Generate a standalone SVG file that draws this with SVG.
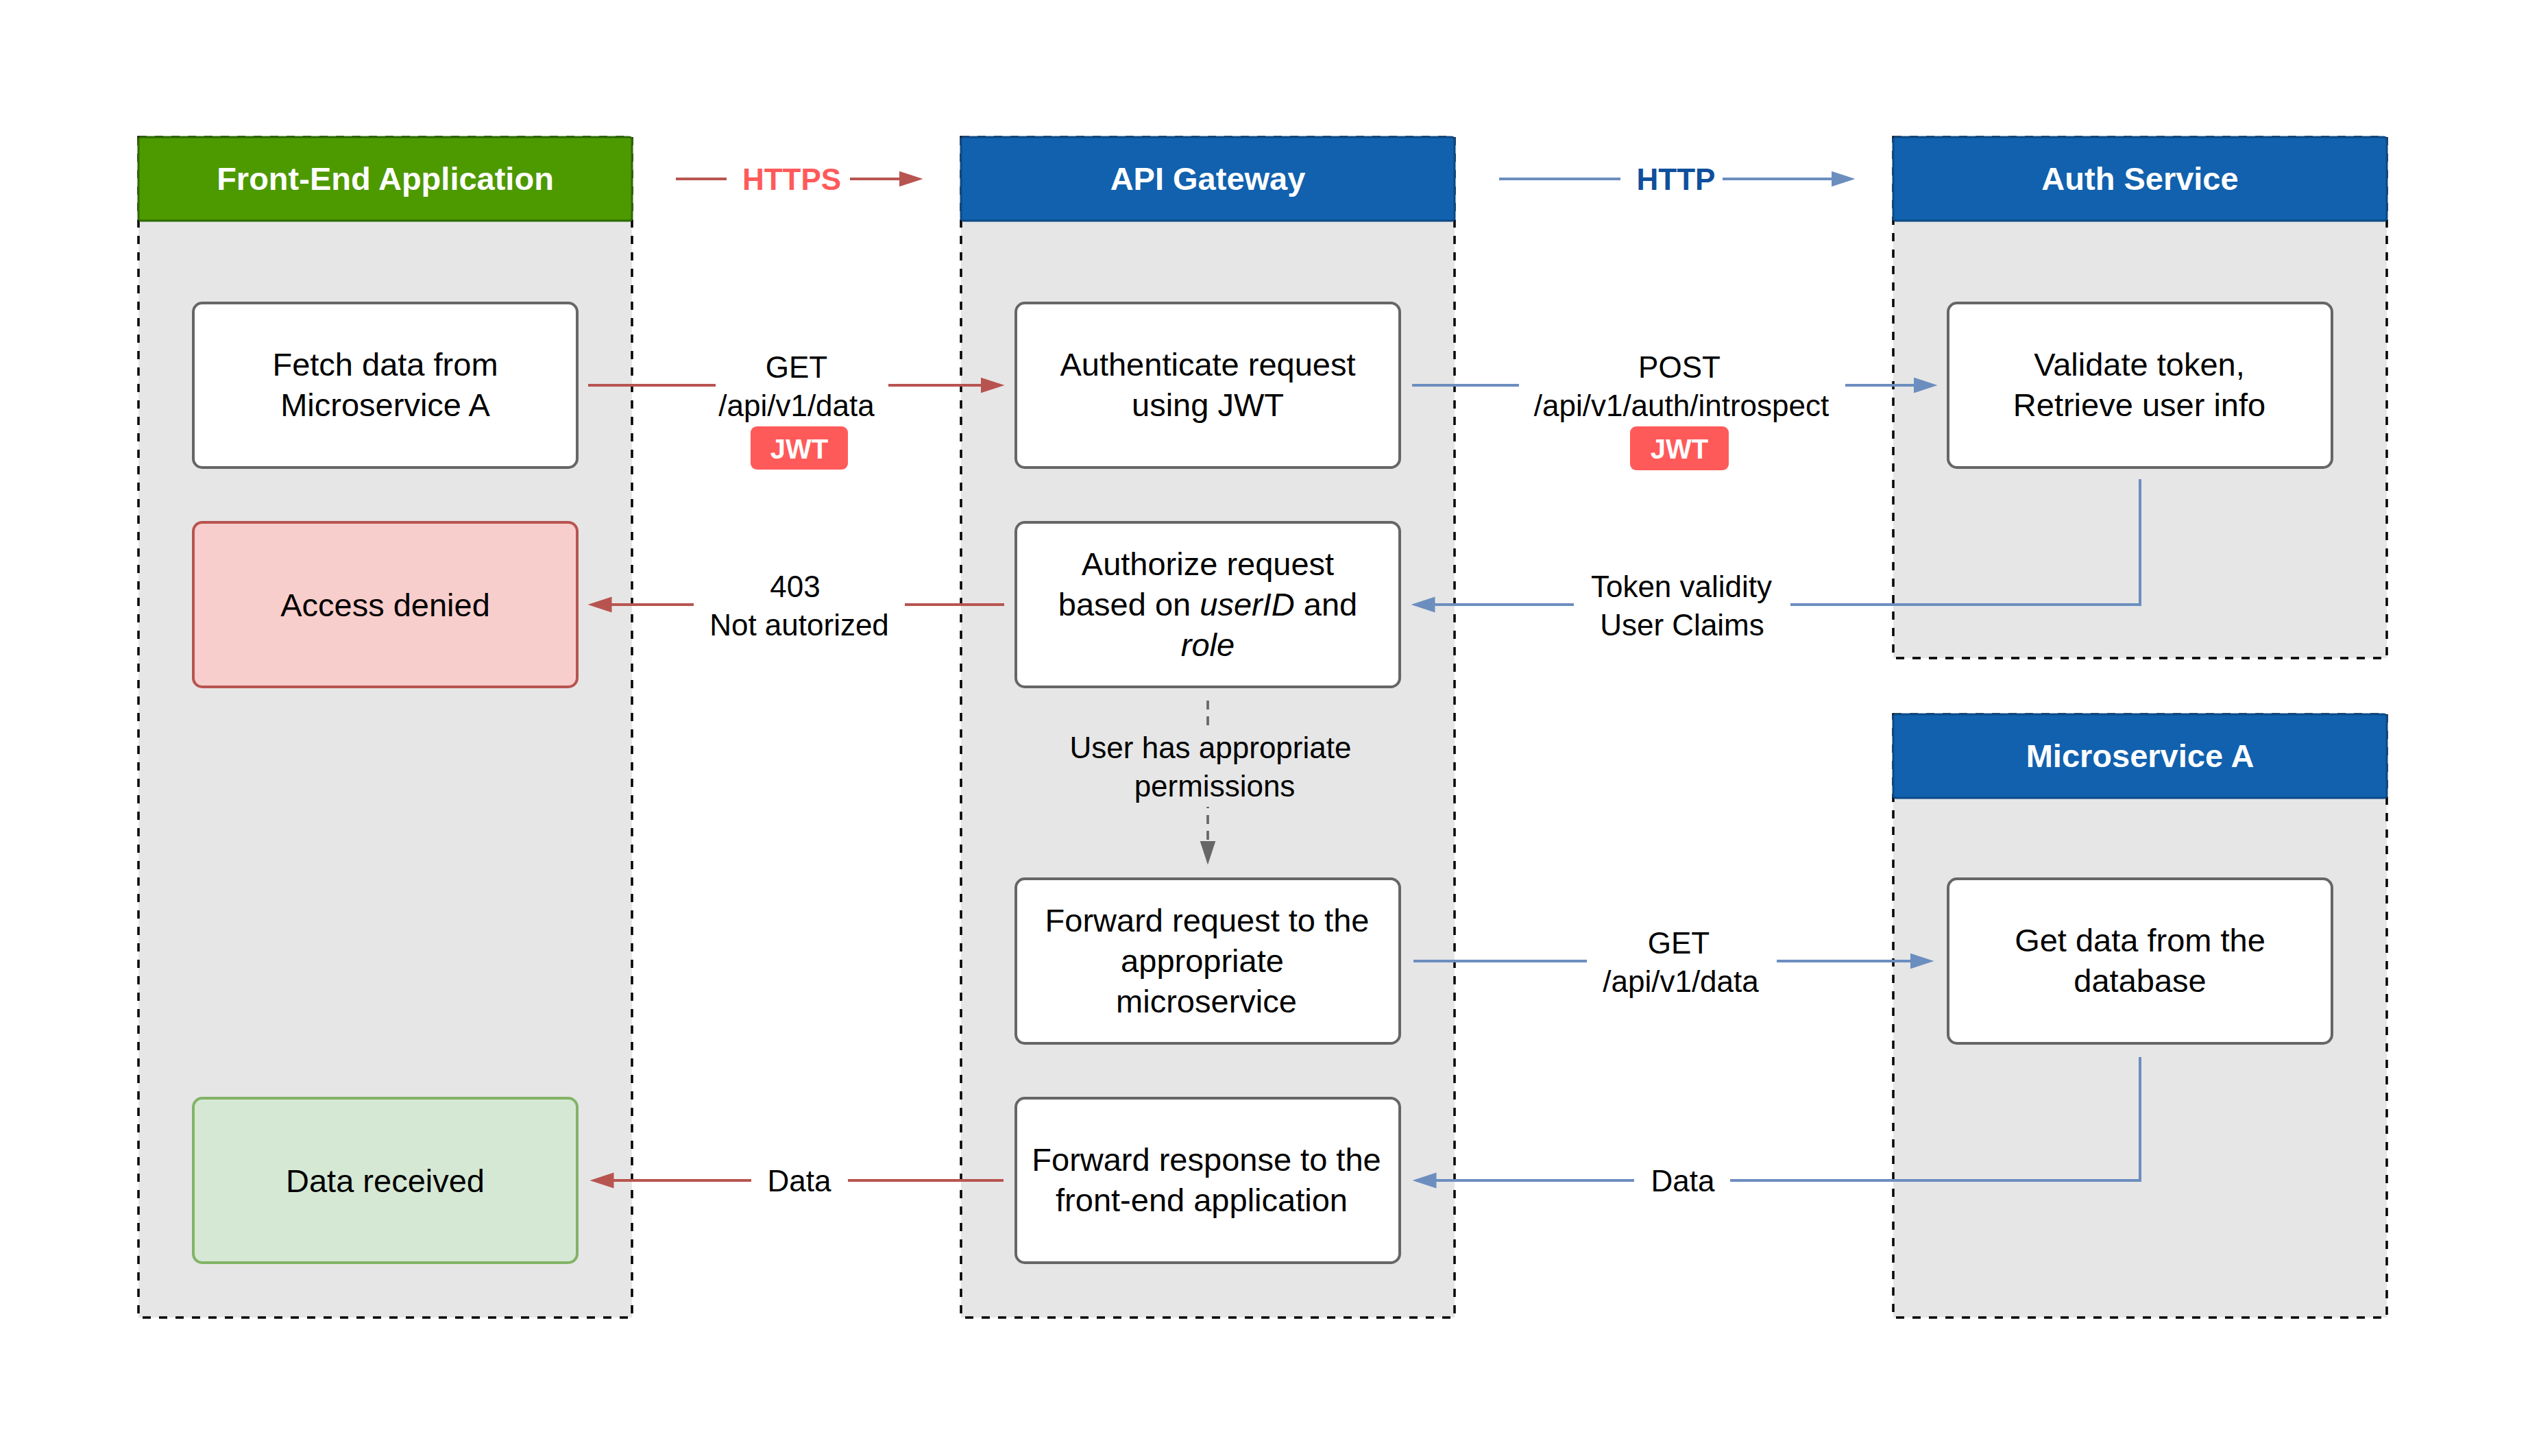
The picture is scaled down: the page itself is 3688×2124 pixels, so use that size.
<svg xmlns="http://www.w3.org/2000/svg" width="3688" height="2124" viewBox="0 0 3688 2124">
<defs>
<style>
text{font-family:"Liberation Sans",Arial,Helvetica,sans-serif;text-anchor:middle;fill:#000}
.cont{fill:#e6e6e6;stroke:#000;stroke-width:3.5;stroke-dasharray:12 12}
.hdr-blue{fill:#1161ae;stroke:#0d4a87;stroke-width:3}
.hdr-green{fill:#4d9900;stroke:#2d6a00;stroke-width:3}
.htxt{font-size:47px;font-weight:bold;fill:#fff}
.box{fill:#fff;stroke:#666;stroke-width:4}
.box-red{fill:#f8cecc;stroke:#b85450;stroke-width:4}
.box-green{fill:#d5e8d4;stroke:#82b366;stroke-width:4}
.btxt{font-size:47px}
.lbl{font-size:44px}
.red{fill:none;stroke:#b85450;stroke-width:4}
.blue{fill:none;stroke:#6c8ebf;stroke-width:4}
.gray{fill:none;stroke:#666;stroke-width:3.7;stroke-dasharray:13 10}
.badge{fill:#ff5a5a}
.btext{font-size:40px;font-weight:bold;fill:#fff}
</style>
<marker id="ar" markerUnits="userSpaceOnUse" viewBox="0 0 36 24" markerWidth="36" markerHeight="24" refX="0.5" refY="12" orient="auto"><path d="M0,0.5 L35,12 L0,23.5 Z" fill="#b85450"/></marker>
<marker id="ab" markerUnits="userSpaceOnUse" viewBox="0 0 36 24" markerWidth="36" markerHeight="24" refX="0.5" refY="12" orient="auto"><path d="M0,0.5 L35,12 L0,23.5 Z" fill="#6c8ebf"/></marker>
<marker id="ag" markerUnits="userSpaceOnUse" viewBox="0 0 36 24" markerWidth="36" markerHeight="24" refX="0.5" refY="12" orient="auto"><path d="M0,0.5 L35,12 L0,23.5 Z" fill="#666"/></marker>
</defs>
<rect width="3688" height="2124" fill="#fff"/>

<g id="frontend">
<rect class="cont" x="202" y="200" width="720" height="1722"/>
<rect class="hdr-green" x="202" y="200" width="720" height="122" rx="4"/>
<text class="htxt" x="562" y="277">Front-End Application</text>
</g>
<g id="gateway">
<rect class="cont" x="1402" y="200" width="720" height="1722"/>
<rect class="hdr-blue" x="1402" y="200" width="720" height="122" rx="4"/>
<text class="htxt" x="1762" y="277">API Gateway</text>
</g>
<g id="auth">
<rect class="cont" x="2762" y="200" width="720" height="760"/>
<rect class="hdr-blue" x="2762" y="200" width="720" height="122" rx="4"/>
<text class="htxt" x="3122" y="277">Auth Service</text>
</g>
<g id="msa">
<rect class="cont" x="2762" y="1042" width="720" height="880"/>
<rect class="hdr-blue" x="2762" y="1042" width="720" height="122" rx="4"/>
<text class="htxt" x="3122" y="1119">Microservice A</text>
</g>

<g id="fetch">
<rect class="box" x="282" y="442" width="560" height="240" rx="13"/>
<text class="btxt" x="562" y="548">Fetch data from</text>
<text class="btxt" x="562" y="607">Microservice A</text>
</g>
<g id="denied">
<rect class="box-red" x="282" y="762" width="560" height="240" rx="13"/>
<text class="btxt" x="562" y="899">Access denied</text>
</g>
<g id="received">
<rect class="box-green" x="282" y="1602" width="560" height="240" rx="13"/>
<text class="btxt" x="562" y="1739">Data received</text>
</g>
<g id="authenticate">
<rect class="box" x="1482" y="442" width="560" height="240" rx="13"/>
<text class="btxt" x="1762" y="548">Authenticate request</text>
<text class="btxt" x="1762" y="607">using JWT</text>
</g>
<g id="authorize">
<rect class="box" x="1482" y="762" width="560" height="240" rx="13"/>
<text class="btxt" x="1762" y="839">Authorize request</text>
<text class="btxt" x="1762" y="898">based on <tspan font-style="italic">userID</tspan> and</text>
<text class="btxt" x="1762" y="957" font-style="italic">role</text>
</g>
<g id="forward-req">
<rect class="box" x="1482" y="1282" width="560" height="240" rx="13"/>
<text class="btxt" x="1761" y="1359">Forward request to the</text>
<text class="btxt" x="1754" y="1418">appropriate</text>
<text class="btxt" x="1760" y="1477">microservice</text>
</g>
<g id="forward-resp">
<rect class="box" x="1482" y="1602" width="560" height="240" rx="13"/>
<text class="btxt" x="1760" y="1708">Forward response to the</text>
<text class="btxt" x="1753" y="1767">front-end application</text>
</g>
<g id="validate">
<rect class="box" x="2842" y="442" width="560" height="240" rx="13"/>
<text class="btxt" x="3121" y="548">Validate token,</text>
<text class="btxt" x="3121" y="607">Retrieve user info</text>
</g>
<g id="getdata">
<rect class="box" x="2842" y="1282" width="560" height="240" rx="13"/>
<text class="btxt" x="3122" y="1388">Get data from the</text>
<text class="btxt" x="3122" y="1447">database</text>
</g>

<g id="connectors">
<path class="red" d="M986,261 H1060"/>
<path class="red" d="M1240,261 H1312" marker-end="url(#ar)"/>
<text class="lbl" x="1155" y="277" font-weight="bold" style="fill:#ff5a5a">HTTPS</text>

<path class="blue" d="M2187,261 H2364"/>
<path class="blue" d="M2513,261 H2672" marker-end="url(#ab)"/>
<text class="lbl" x="2445" y="277" font-weight="bold" style="fill:#0f4f9c">HTTP</text>

<path class="red" d="M858,562 H1044"/>
<path class="red" d="M1296,562 H1431" marker-end="url(#ar)"/>
<text class="lbl" x="1162" y="551">GET</text>
<text class="lbl" x="1162" y="607">/api/v1/data</text>
<rect class="badge" x="1095" y="622" width="142" height="63" rx="9"/>
<text class="btext" x="1166" y="669">JWT</text>

<path class="blue" d="M2060,562 H2216"/>
<path class="blue" d="M2692,562 H2792" marker-end="url(#ab)"/>
<text class="lbl" x="2450" y="551">POST</text>
<text class="lbl" x="2453" y="607">/api/v1/auth/introspect</text>
<rect class="badge" x="2378" y="622" width="144" height="64" rx="9"/>
<text class="btext" x="2450" y="669">JWT</text>

<path class="blue" d="M3122,699 V882 H2612"/>
<path class="blue" d="M2296,882 H2093" marker-end="url(#ab)"/>
<text class="lbl" x="2453" y="871">Token validity</text>
<text class="lbl" x="2454" y="927">User Claims</text>

<path class="red" d="M1465,882 H1320"/>
<path class="red" d="M1012,882 H892" marker-end="url(#ar)"/>
<text class="lbl" x="1160" y="871">403</text>
<text class="lbl" x="1166" y="927">Not autorized</text>

<path class="gray" d="M1762,1022 V1058"/>
<path class="gray" d="M1762,1177 V1227" stroke-dashoffset="11" marker-end="url(#ag)"/>
<text class="lbl" x="1766" y="1106">User has appropriate</text>
<text class="lbl" x="1772" y="1162">permissions</text>

<path class="blue" d="M2062,1402 H2315"/>
<path class="blue" d="M2592,1402 H2787" marker-end="url(#ab)"/>
<text class="lbl" x="2449" y="1391">GET</text>
<text class="lbl" x="2452" y="1447">/api/v1/data</text>

<path class="blue" d="M3122,1542 V1722 H2524"/>
<path class="blue" d="M2384,1722 H2095" marker-end="url(#ab)"/>
<text class="lbl" x="2455" y="1738">Data</text>

<path class="red" d="M1464,1722 H1237"/>
<path class="red" d="M1096,1722 H895" marker-end="url(#ar)"/>
<text class="lbl" x="1166" y="1738">Data</text>
</g>
</svg>
